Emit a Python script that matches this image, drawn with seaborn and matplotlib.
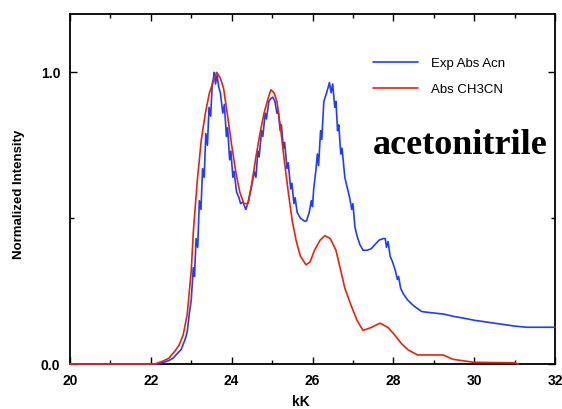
import matplotlib
matplotlib.use("Agg")
import matplotlib.pyplot as plt
import seaborn as sns
import pandas as pd
from matplotlib.ticker import MultipleLocator

sns.set_style("ticks")
plt.rcParams['font.family'] = ['Liberation Sans', 'DejaVu Sans']
plt.rcParams['text.color'] = 'black'
plt.rcParams['axes.labelcolor'] = 'black'
plt.rcParams['xtick.color'] = 'black'
plt.rcParams['ytick.color'] = 'black'

blue_x = [20.0, 22.15, 22.3, 22.45, 22.55, 22.65, 22.75, 22.85, 22.9, 22.95, 23.0, 23.05, 23.08, 23.12, 23.16,
          23.2, 23.24, 23.28, 23.32, 23.36, 23.40, 23.44, 23.48, 23.52, 23.55, 23.57, 23.6, 23.64, 23.68, 23.72,
          23.78, 23.82, 23.87, 23.9, 23.95, 23.98, 24.03, 24.06, 24.12, 24.18, 24.22, 24.28, 24.35, 24.42, 24.48,
          24.52, 24.56, 24.6, 24.65, 24.68, 24.74, 24.77, 24.83, 24.86, 24.92, 24.97, 25.02, 25.07, 25.12, 25.15,
          25.2, 25.23, 25.28, 25.31, 25.37, 25.4, 25.46, 25.49, 25.54, 25.57, 25.62, 25.7, 25.8, 25.85, 25.92,
          25.97, 26.0, 26.03, 26.08, 26.12, 26.15, 26.2, 26.23, 26.28, 26.35, 26.42, 26.46, 26.5, 26.55, 26.58,
          26.62, 26.65, 26.7, 26.73, 26.8, 26.85, 26.92, 26.97, 27.0, 27.05, 27.1, 27.17, 27.25, 27.35, 27.45,
          27.55, 27.65, 27.75, 27.8, 27.83, 27.87, 27.92, 27.98, 28.05, 28.1, 28.13, 28.18, 28.25, 28.35, 28.5,
          28.65, 28.7, 28.8, 29.0, 29.25, 29.5, 29.75, 30.0, 30.25, 30.5, 30.75, 31.0, 31.3, 32.0]
blue_y = [0.0, 0.0, 0.005, 0.012, 0.02, 0.035, 0.05, 0.085, 0.11, 0.17, 0.22, 0.33, 0.30, 0.43, 0.40,
          0.56, 0.53, 0.67, 0.64, 0.79, 0.75, 0.88, 0.85, 0.96, 0.98, 1.0, 0.96, 0.99, 0.95, 0.93,
          0.86, 0.89, 0.78, 0.81, 0.70, 0.73, 0.64, 0.66, 0.59, 0.57, 0.55, 0.555, 0.53, 0.56, 0.60,
          0.63, 0.66, 0.64, 0.73, 0.71, 0.80, 0.78, 0.86, 0.84, 0.90, 0.91, 0.915, 0.90, 0.86, 0.87,
          0.80, 0.82, 0.74, 0.76, 0.67, 0.69, 0.60, 0.62, 0.55, 0.57, 0.52, 0.50, 0.49, 0.49, 0.52,
          0.56, 0.54, 0.60, 0.66, 0.72, 0.68, 0.80, 0.77, 0.90, 0.93, 0.965, 0.93, 0.96, 0.88, 0.90,
          0.80, 0.82, 0.72, 0.74, 0.64, 0.61, 0.57, 0.53, 0.55, 0.47, 0.44, 0.41, 0.39, 0.39, 0.395,
          0.41, 0.425, 0.43, 0.43, 0.40, 0.42, 0.37, 0.35, 0.32, 0.29, 0.30, 0.26, 0.24, 0.22, 0.20,
          0.185, 0.18, 0.178, 0.175, 0.171, 0.163, 0.157, 0.15, 0.145, 0.14, 0.135, 0.13, 0.126, 0.126]

red_x = [20.0, 22.1, 22.3, 22.45, 22.6, 22.7, 22.8, 22.9, 23.0, 23.05, 23.15, 23.25, 23.35, 23.45, 23.55,
         23.63, 23.72, 23.8, 23.9, 24.0, 24.1, 24.2, 24.3, 24.4, 24.5, 24.6, 24.7, 24.8, 24.9, 24.97,
         25.05, 25.12, 25.2, 25.3, 25.4, 25.5, 25.6, 25.7, 25.84, 25.94, 26.05, 26.19, 26.31, 26.44, 26.58,
         26.7, 26.8, 26.93, 27.1, 27.25, 27.45, 27.67, 27.87, 28.0, 28.2, 28.37, 28.6, 29.23, 29.48, 29.98,
         31.0, 31.1]
red_y = [0.0, 0.0, 0.01, 0.02, 0.045, 0.065, 0.10, 0.17, 0.32, 0.45, 0.63, 0.77, 0.86, 0.93, 0.97,
         1.0, 0.98, 0.945, 0.85, 0.75, 0.66, 0.59, 0.55, 0.55, 0.62, 0.71, 0.79, 0.86, 0.91, 0.94,
         0.93, 0.90, 0.82, 0.70, 0.59, 0.49, 0.42, 0.37, 0.34, 0.35, 0.39, 0.425, 0.44, 0.43, 0.39,
         0.32, 0.26, 0.21, 0.15, 0.115, 0.125, 0.14, 0.125, 0.105, 0.07, 0.048, 0.031, 0.031, 0.016, 0.006,
         0.004, 0.0]

series_names = ["Exp Abs Acn", "Abs CH3CN"]
x_ticks = [20, 22, 24, 26, 28, 30, 32]
y_ticks = [0.0, 1.0]

df = pd.concat([
    pd.DataFrame({"kK": blue_x, "I": blue_y, "s": series_names[0]}),
    pd.DataFrame({"kK": red_x, "I": red_y, "s": series_names[1]}),
])

fig = plt.figure(figsize=(5.62, 4.09), dpi=100)
ax = fig.add_axes([70/562, 45/409, 485/562, 350/409])
sns.lineplot(data=df, x="kK", y="I", hue="s", palette=["#1f3dff", "#e8230a"],
             estimator=None, sort=False, linewidth=1.2, ax=ax)
for ln in ax.lines:
    ln.set_zorder(3)
    ln.set_clip_on(False)

ax.set_xlim(20, 32)
ax.set_ylim(0, 1.2)
ax.set_xticks(x_ticks)
ax.set_xticklabels([str(t) for t in x_ticks], fontweight="bold", fontsize=10)
ax.set_yticks(y_ticks)
ax.set_yticklabels(["%.1f" % t for t in y_ticks], fontweight="bold", fontsize=10)
ax.xaxis.set_minor_locator(MultipleLocator(1))
ax.yaxis.set_minor_locator(MultipleLocator(0.5))
ax.tick_params(which="both", direction="in", top=True, right=True, width=1)
ax.tick_params(which="major", length=5)
ax.tick_params(which="minor", length=3)
ax.tick_params(axis="both", which="major", pad=7)
for s in ax.spines.values():
    s.set_linewidth(1.3)
    s.set_color("black")

ax.set_xlabel("kK", fontweight="bold", fontsize=10)
ax.set_ylabel("Normalized Intensity", fontweight="bold", fontsize=9.5)
ax.xaxis.set_label_coords((301-70)/485, -0.088)
ax.yaxis.set_label_coords(-0.093, (364-194)/350)

leg = ax.legend(frameon=False, loc="upper left", bbox_to_anchor=(0.6, 0.91),
                fontsize=9.5, handlelength=3.4, handletextpad=1.0, labelspacing=1.05)

ax.text(0.985, 0.625, "acetonitrile", transform=ax.transAxes, ha="right", va="center",
        fontsize=26, fontweight="bold", family=["Liberation Serif", "DejaVu Serif"])

fig.savefig("out.png", dpi=100)
